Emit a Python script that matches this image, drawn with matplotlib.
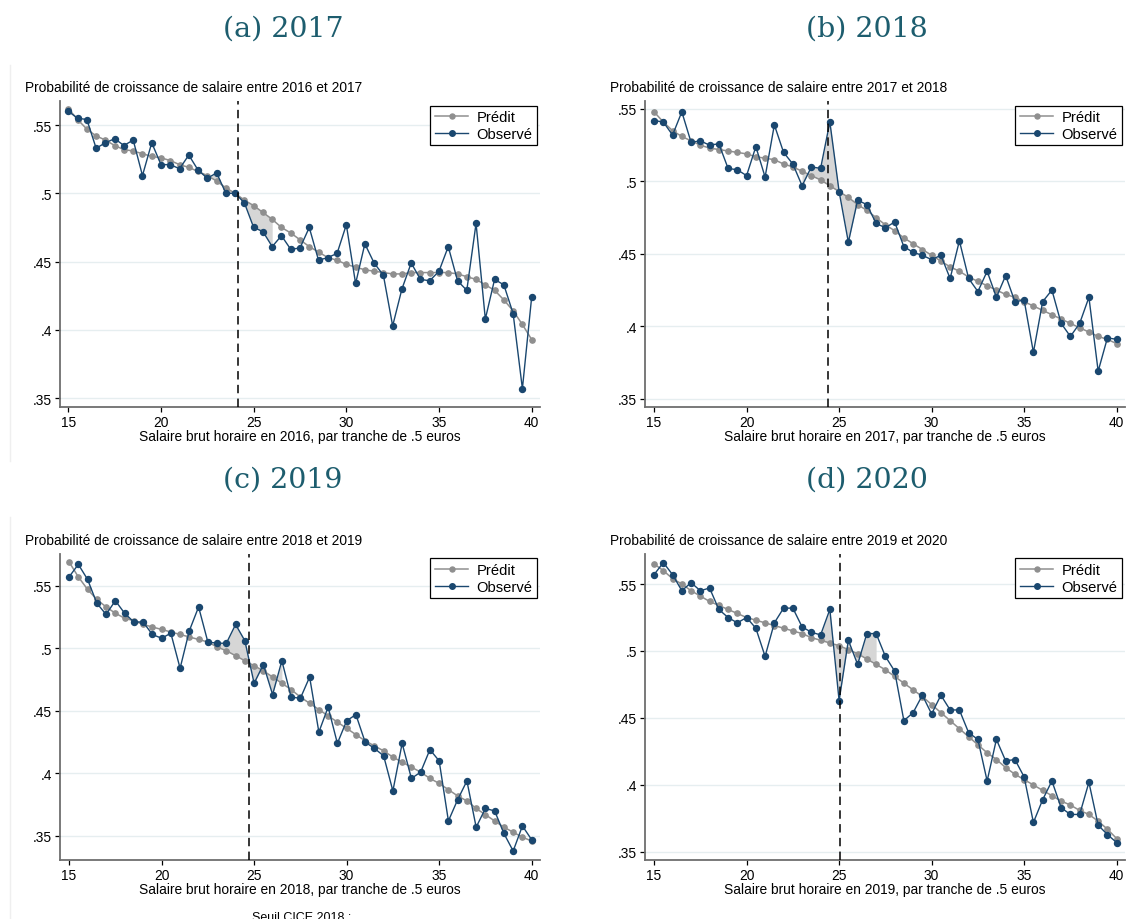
import numpy as np
import matplotlib.pyplot as plt
from matplotlib.lines import Line2D

W, H = 1131, 920

plt.rcParams['font.family'] = ['Liberation Sans', 'DejaVu Sans']

# tranches de salaire brut horaire (par .5 euros)
tranches = np.arange(15, 40.5, 0.5)

pred_2017 = [.562, .554, .547, .542, .539, .535, .532, .531, .529, .527, .526, .524, .521,
             .519, .516, .513, .509, .504, .500, .495, .491, .486, .481, .475, .471, .466,
             .461, .457, .453, .451, .448, .446, .444, .443, .442, .441, .441, .442, .442,
             .442, .442, .442, .441, .439, .437, .433, .429, .422, .414, .404, .393]
obs_2017 = [.560, .555, .554, .533, .537, .540, .535, .539, .513, .537, .521, .521, .518,
            .528, .517, .511, .515, .500, .500, .493, .475, .472, .461, .469, .459, .460,
            .475, .451, .453, .456, .477, .434, .463, .449, .440, .403, .430, .449, .437,
            .436, .443, .461, .436, .429, .478, .408, .437, .433, .412, .357, .424]

pred_2018 = [.548, .541, .535, .531, .528, .525, .523, .522, .521, .520, .519, .517, .516,
             .515, .512, .510, .507, .504, .501, .497, .493, .489, .484, .480, .475, .470,
             .466, .461, .457, .453, .449, .445, .441, .438, .434, .431, .428, .425, .422,
             .420, .417, .414, .411, .408, .405, .402, .399, .396, .393, .391, .388]
obs_2018 = [.542, .541, .532, .548, .527, .528, .525, .526, .509, .508, .504, .524, .503,
            .539, .520, .512, .497, .510, .509, .541, .493, .458, .487, .484, .471, .468,
            .472, .455, .451, .449, .446, .449, .433, .459, .433, .424, .438, .420, .435,
            .417, .418, .382, .417, .425, .402, .393, .402, .420, .369, .392, .391]

pred_2019 = [.569, .557, .547, .539, .533, .528, .524, .522, .519, .517, .515, .513, .511,
             .509, .507, .505, .501, .498, .494, .490, .486, .482, .477, .472, .467, .461,
             .456, .451, .446, .441, .436, .431, .426, .422, .418, .413, .409, .405, .401,
             .396, .392, .387, .382, .378, .372, .367, .362, .357, .353, .349, .346]
obs_2019 = [.557, .567, .555, .536, .527, .538, .528, .521, .521, .511, .508, .512, .484,
            .514, .533, .505, .504, .504, .519, .506, .472, .487, .463, .490, .461, .460,
            .477, .433, .453, .424, .442, .447, .425, .420, .414, .386, .424, .396, .401,
            .419, .410, .362, .379, .394, .357, .372, .370, .352, .338, .358, .347]

pred_2020 = [.565, .560, .554, .550, .545, .541, .537, .534, .531, .528, .525, .523, .521,
             .519, .517, .515, .513, .510, .508, .506, .504, .501, .498, .494, .490, .486,
             .481, .476, .471, .466, .460, .454, .448, .442, .436, .430, .424, .419, .413,
             .408, .404, .400, .396, .392, .388, .385, .381, .378, .373, .367, .360]
obs_2020 = [.557, .566, .557, .545, .551, .545, .547, .531, .525, .521, .525, .517, .496,
            .521, .532, .532, .518, .514, .512, .531, .463, .508, .490, .513, .513, .496,
            .485, .448, .454, .467, .453, .467, .456, .456, .439, .434, .403, .434, .418,
            .419, .406, .372, .389, .403, .383, .378, .378, .402, .370, .363, .357]

# seuil CICE (2.5 SMIC) et zone grisée autour du seuil
seuils = [24.175, 24.4, 24.7, 25.075]
zones = [(22.5, 26), (23, 26), (23, 26.5), (24, 27)]
periodes = [(2016, 2017), (2017, 2018), (2018, 2019), (2019, 2020)]
titres = ["(a) 2017", "(b) 2018", "(c) 2019", "(d) 2020"]
predits = [pred_2017, pred_2018, pred_2019, pred_2020]
observes = [obs_2017, obs_2018, obs_2019, obs_2020]

# boites des axes en pixels (gauche, haut, droite, bas) + limites y
boites = [(60, 101.7, 540, 408), (645, 101.7, 1125, 408),
          (60, 555, 540, 861), (645, 555, 1125, 861)]
ylims = [(.3436, .5678), (.3443, .5557), (.3308, .5753), (.344, .5724)]
xlims = [(14.55, 40.45), (14.51, 40.45), (14.51, 40.45), (14.51, 40.45)]
titre_pos = [(283, 29), (867, 29), (283, 480), (867, 480)]

navy = '#1a476f'
gris = '#8f8f8f'
spine_col = '#6e6e6e'

fig = plt.figure(figsize=(W / 100, H / 100), dpi=100)

for i in range(4):
    l, t, r, b = boites[i]
    ax = fig.add_axes([l / W, 1 - b / H, (r - l) / W, (b - t) / H])
    pred = np.array(predits[i])
    obs = np.array(observes[i])

    yt = [.35, .4, .45, .5, .55]
    for v in yt:
        ax.axhline(v, color='#e6eef0', lw=1, zorder=0)

    z0, z1 = zones[i]
    m = (tranches >= z0) & (tranches <= z1)
    ax.fill_between(tranches[m], pred[m], obs[m], color='#d6d6d6', lw=0, zorder=1)

    ax.plot(tranches, pred, color=gris, lw=1.1, marker='o', ms=3.8,
            mec=gris, mfc=gris, zorder=2)
    ax.plot(tranches, obs, color=navy, lw=1.0, marker='o', ms=4.3,
            mec=navy, mfc=navy, zorder=3)
    ax.axvline(seuils[i], color='black', lw=1.1, ls=(0, (5.5, 3.5)), zorder=4)

    ax.set_xlim(*xlims[i])
    ax.set_ylim(*ylims[i])
    ax.set_xticks([15, 20, 25, 30, 35, 40])
    ax.set_yticks(yt)
    ax.set_yticklabels(['.35', '.4', '.45', '.5', '.55'])
    ax.tick_params(axis='both', labelsize=9.9, length=3.5, width=0.9,
                   color='black', pad=2)
    for s in ['top', 'right']:
        ax.spines[s].set_visible(False)
    for s in ['left', 'bottom']:
        ax.spines[s].set_color(spine_col)
        ax.spines[s].set_linewidth(1.3)

    a0, a1 = periodes[i]
    ax.set_xlabel(f"Salaire brut horaire en {a0}, par tranche de .5 euros",
                  fontsize=9.9, labelpad=0)
    fig.text((l - 35) / W, 1 - (t - 13.5) / H,
             f"Probabilité de croissance de salaire entre {a0} et {a1}",
             fontsize=9.9, ha='left', va='center')

    handles = [Line2D([], [], color=gris, lw=1.1, marker='o', ms=3.6),
               Line2D([], [], color=navy, lw=1.0, marker='o', ms=4.0)]
    top_leg = 106.7 if i < 2 else 559.3
    leg = ax.legend(handles, ['Prédit', 'Observé'], loc='upper right',
                    bbox_to_anchor=((r - 3 - l) / (r - l), (b - top_leg) / (b - t)),
                    borderaxespad=0, fontsize=10.6, fancybox=False,
                    edgecolor='black', handlelength=2.3, handletextpad=0.55,
                    borderpad=0.3, labelspacing=0.2, framealpha=1)
    leg.get_frame().set_linewidth(0.9)

    tx, ty = titre_pos[i]
    fig.text(tx / W, 1 - ty / H, titres[i], fontsize=20.5, color='#1d5d6e',
             family='DejaVu Serif', ha='center', va='center')

# bordures discretes des panneaux de gauche
fig.add_artist(Line2D([10 / W, 10 / W], [1 - 66 / H, 1 - 462 / H], color='#efefef', lw=1))
fig.add_artist(Line2D([10 / W, 10 / W], [1 - 518 / H, 0], color='#efefef', lw=1))

fig.text(302 / W, 1 - 912.5 / H, "Seuil CICE 2018 :", fontsize=9, ha='center', va='top')

fig.savefig('out.png', dpi=100)
